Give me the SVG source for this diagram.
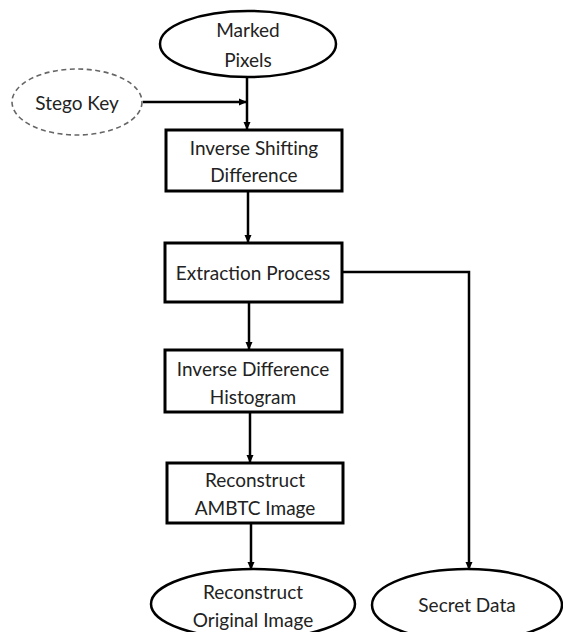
<svg xmlns="http://www.w3.org/2000/svg" width="563" height="632" viewBox="0 0 563 632">
<defs>
<style>
.box{fill:#fff;stroke:#000;stroke-width:3}
.ell{fill:#fff;stroke:#000;stroke-width:2.5}
.dash{fill:#fff;stroke:#666;stroke-width:1.6;stroke-dasharray:5 3.5}
.t{font-family:Lato,"Open Sans",sans-serif;font-size:19px;fill:#222;text-anchor:middle}
.c{fill:none;stroke:#000;stroke-width:2.5}
</style>
<marker id="ah" markerWidth="8" markerHeight="8" refX="7" refY="4" orient="auto" markerUnits="userSpaceOnUse">
<path d="M0,0.5 L8,4 L0,7.5 Z" fill="#000"/>
</marker>
</defs>
<rect width="563" height="632" fill="#fff"/>
<g id="connectors">
<path class="c" d="M247,77 V129" marker-end="url(#ah)"/>
<path class="c" d="M143,102 H246" marker-end="url(#ah)" stroke-width="2"/>
<path class="c" d="M248,191 V242" marker-end="url(#ah)"/>
<path class="c" d="M249,302 V349" marker-end="url(#ah)"/>
<path class="c" d="M250,412 V462" marker-end="url(#ah)"/>
<path class="c" d="M251,523 V569" marker-end="url(#ah)"/>
<path class="c" d="M342,272 H469 V569" marker-end="url(#ah)"/>
</g>
<g id="marked-pixels">
<ellipse class="ell" cx="248" cy="44" rx="88" ry="33"/>
<text class="t" x="248" y="37">Marked</text>
<text class="t" x="248" y="67">Pixels</text>
</g>
<g id="stego-key">
<ellipse class="dash" cx="77" cy="102" rx="65" ry="33"/>
<text class="t" x="77" y="110">Stego Key</text>
</g>
<g id="inverse-shifting">
<rect class="box" x="166" y="130" width="176" height="61"/>
<text class="t" x="254" y="155">Inverse Shifting</text>
<text class="t" x="254" y="182">Difference</text>
</g>
<g id="extraction">
<rect class="box" x="165" y="243" width="177" height="59"/>
<text class="t" x="253" y="280">Extraction Process</text>
</g>
<g id="inverse-difference">
<rect class="box" x="165" y="350" width="177" height="62"/>
<text class="t" x="253" y="376">Inverse Difference</text>
<text class="t" x="253" y="404">Histogram</text>
</g>
<g id="reconstruct-ambtc">
<rect class="box" x="167" y="463" width="176" height="60"/>
<text class="t" x="255" y="487">Reconstruct</text>
<text class="t" x="255" y="515">AMBTC Image</text>
</g>
<g id="reconstruct-original">
<ellipse class="ell" cx="253" cy="604" rx="102" ry="35"/>
<text class="t" x="253" y="599">Reconstruct</text>
<text class="t" x="253" y="627">Original Image</text>
</g>
<g id="secret-data">
<ellipse class="ell" cx="467" cy="605" rx="95" ry="36"/>
<text class="t" x="467" y="612">Secret Data</text>
</g>
</svg>
